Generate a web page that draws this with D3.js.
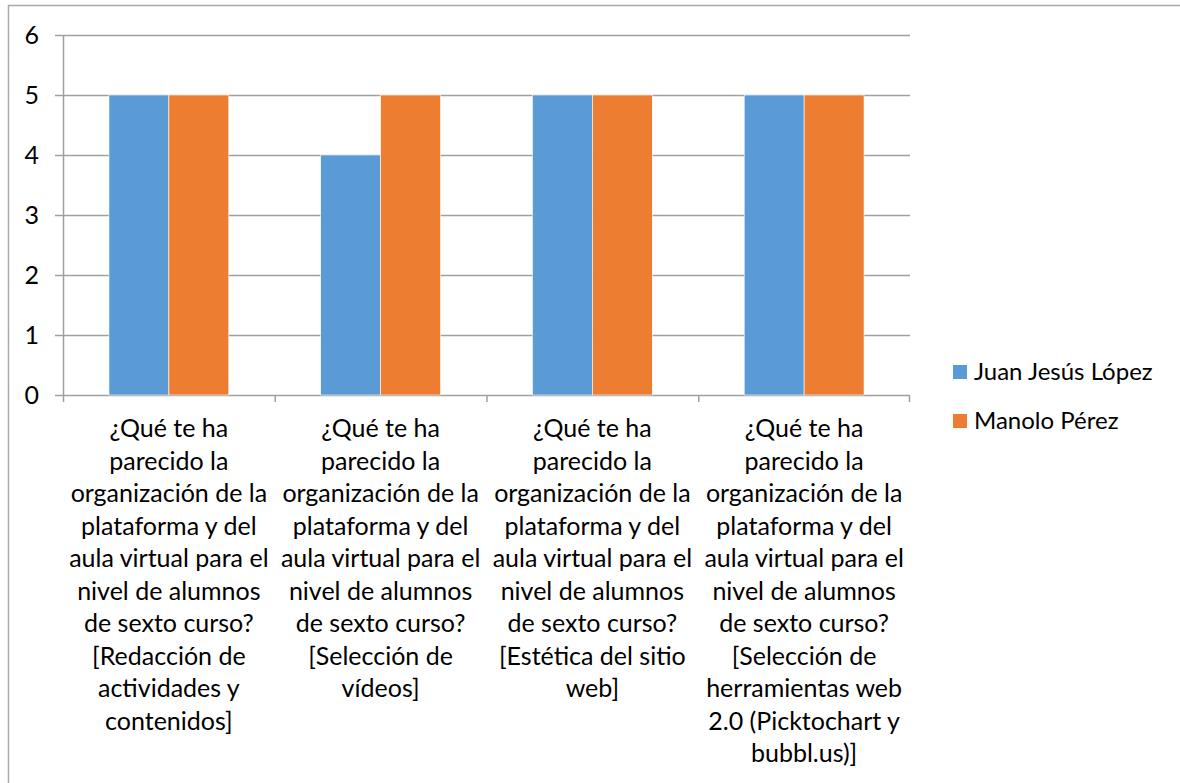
<!DOCTYPE html>
<html>
<head>
<meta charset="utf-8">
<script src="https://cdn.jsdelivr.net/npm/d3@7"></script>
<style>
  html, body { margin: 0; padding: 0; background: #fff; }
  svg { display: block; font-family: Lato, "Open Sans", sans-serif; }
  .axis text { fill: #000; }
</style>
</head>
<body>
<div class="chart"></div>
<script>
// categories (already wrapped the way the original shows them)
const categories = [
  ["¿Qué te ha", "parecido la", "organización de la", "plataforma y del", "aula virtual para el", "nivel de alumnos", "de sexto curso?", "[Redacción de", "actividades y", "contenidos]"],
  ["¿Qué te ha", "parecido la", "organización de la", "plataforma y del", "aula virtual para el", "nivel de alumnos", "de sexto curso?", "[Selección de", "vídeos]"],
  ["¿Qué te ha", "parecido la", "organización de la", "plataforma y del", "aula virtual para el", "nivel de alumnos", "de sexto curso?", "[Estética del sitio", "web]"],
  ["¿Qué te ha", "parecido la", "organización de la", "plataforma y del", "aula virtual para el", "nivel de alumnos", "de sexto curso?", "[Selección de", "herramientas web", "2.0 (Picktochart y", "bubbl.us)]"]
]
const seriesNames = ["Juan Jesús López", "Manolo Pérez"]
const juanValues = [5, 4, 5, 5]
const manoloValues = [5, 5, 5, 5]
const yTicks = [0, 1, 2, 3, 4, 5, 6]
const seriesColors = ["#5B9BD5", "#ED7D31"]

const width = 1180
const height = 783
const margin = { left: 63, right: 270, top: 35, bottom: 388 }
const fontSize = 25
const lineHeight = 32.5

const svg = d3.select(".chart")
  .append("svg")
  .attr("width", width)
  .attr("height", height)

// chart area border
svg.append("rect")
  .attr("x", 8.5)
  .attr("y", 5.5)
  .attr("width", width + 10)
  .attr("height", height + 10)
  .attr("fill", "none")
  .attr("stroke", "#a9a9a9")
  .attr("stroke-width", 1.5)

const keys = categories.map((c, i) => "c" + i)

const x0 = d3.scaleBand()
  .domain(keys)
  .range([margin.left, width - margin.right])
  .padding(0)

const x1 = d3.scaleBand()
  .domain(seriesNames)
  .range([0, x0.bandwidth()])
  .paddingInner(0)
  .paddingOuter(0.767)

const y = d3.scaleLinear()
  .domain([0, 6])
  .range([height - margin.bottom, margin.top])

const plotRight = x0.range()[1]

// gridlines
svg.append("g")
  .selectAll("line")
  .data(yTicks)
  .join("line")
  .attr("x1", margin.left - 8)
  .attr("x2", plotRight)
  .attr("y1", d => Math.round(y(d)) + 0.5)
  .attr("y2", d => Math.round(y(d)) + 0.5)
  .attr("stroke", "#a0a0a0")
  .attr("stroke-width", 1.5)

// y axis labels
const yAxis = svg.append("g")
  .attr("class", "axis y-axis")
  .attr("transform", `translate(${margin.left}, 0)`)
  .call(d3.axisLeft(y).tickValues(yTicks).tickSize(0).tickPadding(24).tickFormat(d3.format("d")))
yAxis.select(".domain").remove()
yAxis.selectAll("text").attr("font-size", fontSize).attr("font-family", "Lato, sans-serif")

// vertical axis line
svg.append("line")
  .attr("x1", margin.left + 0.5).attr("x2", margin.left + 0.5)
  .attr("y1", y(6)).attr("y2", y(0))
  .attr("stroke", "#a0a0a0")
  .attr("stroke-width", 1.5)

// bars
const rows = keys.map((k, i) => ({ key: k, values: [juanValues[i], manoloValues[i]] }))

svg.append("g")
  .selectAll("g")
  .data(rows)
  .join("g")
  .attr("transform", d => `translate(${x0(d.key)}, 0)`)
  .selectAll("rect")
  .data(d => d.values.map((v, j) => ({ name: seriesNames[j], value: v, color: seriesColors[j] })))
  .join("rect")
  .attr("x", d => x1(d.name))
  .attr("y", d => y(d.value))
  .attr("width", x1.bandwidth())
  .attr("height", d => y(0) - y(d.value))
  .attr("fill", d => d.color)
  .attr("stroke", "#fff")
  .attr("stroke-width", 0.6)

// category tick marks on the x axis
svg.append("g")
  .selectAll("line")
  .data(keys.concat(["end"]))
  .join("line")
  .attr("x1", d => d === "end" ? plotRight - 0.5 : x0(d) + 0.5)
  .attr("x2", d => d === "end" ? plotRight - 0.5 : x0(d) + 0.5)
  .attr("y1", y(0))
  .attr("y2", y(0) + 7)
  .attr("stroke", "#a0a0a0")
  .attr("stroke-width", 1.5)

// category labels
const labels = svg.append("g")
  .attr("class", "x-labels")
  .selectAll("text")
  .data(keys)
  .join("text")
  .attr("text-anchor", "middle")
  .attr("font-size", fontSize)
  .attr("fill", "#000")
  .attr("x", d => x0(d) + x0.bandwidth() / 2)
  .attr("y", y(0) + 42)

labels.selectAll("tspan")
  .data((d, i) => categories[i].map(line => ({ line, cx: x0(d) + x0.bandwidth() / 2 })))
  .join("tspan")
  .attr("x", d => d.cx)
  .attr("dy", (d, i) => i === 0 ? 0 : lineHeight)
  .text(d => d.line)

// legend
const legend = svg.append("g")
  .attr("transform", "translate(953, 365)")
  .selectAll("g")
  .data(seriesNames)
  .join("g")
  .attr("transform", (d, i) => `translate(0, ${i * 49})`)

legend.append("rect")
  .attr("width", 14)
  .attr("height", 14)
  .attr("fill", (d, i) => seriesColors[i])

legend.append("text")
  .attr("x", 21)
  .attr("y", 7)
  .attr("dy", "0.35em")
  .attr("font-size", fontSize - 1)
  .attr("fill", "#000")
  .text(d => d)
</script>
</body>
</html>
